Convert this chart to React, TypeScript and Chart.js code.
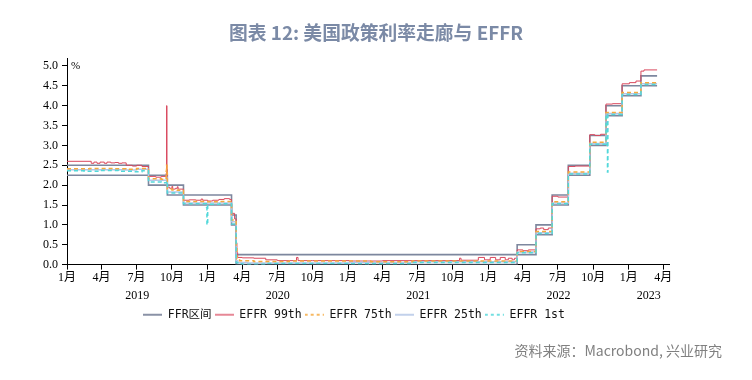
import React, { useEffect, useRef } from "react";
import { Chart, registerables } from "chart.js";

Chart.register(...registerables);

// ---------- data ----------
const X_START = "2019-01-01";
const X_END = "2023-04-16";

const monthTickDates = [
  "2019-01-01", "2019-04-01", "2019-07-01", "2019-10-01",
  "2020-01-01", "2020-04-01", "2020-07-01", "2020-10-01",
  "2021-01-01", "2021-04-01", "2021-07-01", "2021-10-01",
  "2022-01-01", "2022-04-01", "2022-07-01", "2022-10-01",
  "2023-01-01", "2023-04-01",
];
const monthTickLabels = [
  "1月", "4月", "7月", "10月",
  "1月", "4月", "7月", "10月",
  "1月", "4月", "7月", "10月",
  "1月", "4月", "7月", "10月",
  "1月", "4月",
];
const yearStarts = ["2019-01-01", "2020-01-01", "2021-01-01", "2022-01-01", "2023-01-01"];
const yearLabels = ["2019", "2020", "2021", "2022", "2023"];
const yTicks = [0, 0.5, 1.0, 1.5, 2.0, 2.5, 3.0, 3.5, 4.0, 4.5, 5.0];

const ffrDates = [
  "2019-01-01", "2019-08-01", "2019-09-19", "2019-10-31", "2020-03-04", "2020-03-16",
  "2022-03-17", "2022-05-05", "2022-06-16", "2022-07-28", "2022-09-22", "2022-11-03",
  "2022-12-15", "2023-02-02", "2023-03-16",
];
const ffrUpper = [2.5, 2.25, 2.0, 1.75, 1.25, 0.25, 0.5, 1.0, 1.75, 2.5, 3.25, 4.0, 4.5, 4.75, 4.75];
const ffrLower = [2.25, 2.0, 1.75, 1.5, 1.0, 0.0, 0.25, 0.75, 1.5, 2.25, 3.0, 3.75, 4.25, 4.5, 4.5];

const p99Dates = [
  "2019-01-01", "2019-03-05", "2019-03-12", "2019-03-20", "2019-03-28", "2019-04-08",
  "2019-04-15", "2019-04-25", "2019-05-06", "2019-05-15", "2019-05-24", "2019-06-04",
  "2019-06-20", "2019-07-01", "2019-07-15", "2019-08-01", "2019-08-20", "2019-09-03",
  "2019-09-16", "2019-09-17", "2019-09-18", "2019-09-19", "2019-09-25", "2019-10-01",
  "2019-10-03", "2019-10-10", "2019-10-15", "2019-10-17", "2019-10-31", "2019-11-15",
  "2019-12-02", "2019-12-16", "2019-12-20", "2020-01-02", "2020-01-15", "2020-01-31",
  "2020-02-14", "2020-02-28", "2020-03-04", "2020-03-12", "2020-03-16", "2020-03-18",
  "2020-03-20", "2020-04-01", "2020-05-01", "2020-06-01", "2020-07-01", "2020-08-20",
  "2020-08-24", "2020-10-01", "2021-01-04", "2021-04-01", "2021-06-17", "2021-10-18",
  "2021-10-22", "2021-12-06", "2021-12-22", "2022-01-06", "2022-01-20", "2022-02-01",
  "2022-02-14", "2022-02-22", "2022-03-04", "2022-03-10", "2022-03-17", "2022-04-01",
  "2022-04-15", "2022-05-05", "2022-05-16", "2022-05-25", "2022-06-06", "2022-06-16",
  "2022-07-01", "2022-07-28", "2022-08-15", "2022-09-22", "2022-10-05", "2022-10-20",
  "2022-11-03", "2022-11-20", "2022-12-15", "2023-01-03", "2023-01-20", "2023-02-02",
  "2023-02-10", "2023-03-16",
];
const p99Values = [
  2.60, 2.55, 2.58, 2.55, 2.58, 2.55,
  2.58, 2.56, 2.57, 2.55, 2.56, 2.50,
  2.48, 2.50, 2.47, 2.22, 2.20, 2.22,
  2.30, 4.00, 2.40, 1.95, 1.92, 1.97,
  1.90, 1.92, 1.96, 1.90, 1.62, 1.63,
  1.62, 1.65, 1.62, 1.60, 1.62, 1.64,
  1.66, 1.64, 1.29, 1.15, 0.55, 0.30,
  0.18, 0.17, 0.16, 0.12, 0.10, 0.18,
  0.10, 0.10, 0.09, 0.10, 0.10, 0.16,
  0.11, 0.18, 0.12, 0.18, 0.12, 0.18,
  0.12, 0.16, 0.12, 0.16, 0.37, 0.35,
  0.37, 0.90, 0.92, 0.88, 0.92, 1.72,
  1.70, 2.47, 2.48, 3.27, 3.25, 3.28,
  4.04, 4.05, 4.55, 4.58, 4.62, 4.87,
  4.90, 4.90,
];

const p75Dates = [
  "2019-01-01", "2019-03-01", "2019-05-01", "2019-06-03", "2019-07-01", "2019-08-01",
  "2019-09-03", "2019-09-16", "2019-09-17", "2019-09-18", "2019-09-19", "2019-10-01",
  "2019-10-15", "2019-10-31", "2020-01-02", "2020-02-01", "2020-03-04", "2020-03-16",
  "2020-03-18", "2020-03-25", "2020-05-01", "2020-08-01", "2021-01-04", "2021-03-01",
  "2021-06-17", "2022-03-17", "2022-05-05", "2022-06-16", "2022-07-28", "2022-09-22",
  "2022-11-03", "2022-12-15", "2023-02-02", "2023-03-16",
];
const p75Values = [
  2.41, 2.42, 2.41, 2.40, 2.42, 2.16,
  2.15, 2.35, 2.50, 2.30, 1.90, 1.88,
  1.87, 1.59, 1.58, 1.59, 1.12, 0.40,
  0.15, 0.10, 0.08, 0.09, 0.09, 0.07,
  0.09, 0.33, 0.83, 1.58, 2.33, 3.08,
  3.83, 4.33, 4.58, 4.58,
];

const p25Dates = [
  "2019-01-01", "2019-06-03", "2019-07-01", "2019-08-01", "2019-09-17", "2019-09-18",
  "2019-09-19", "2019-10-31", "2020-03-04", "2020-03-16", "2020-03-20", "2020-04-15",
  "2021-01-04", "2021-03-01", "2021-06-17", "2022-03-17", "2022-05-05", "2022-06-16",
  "2022-07-28", "2022-09-22", "2022-11-03", "2022-12-15", "2023-02-02", "2023-03-16",
];
const p25Values = [
  2.39, 2.38, 2.40, 2.12, 2.20, 2.15,
  1.83, 1.55, 1.08, 0.10, 0.05, 0.04,
  0.06, 0.05, 0.07, 0.32, 0.80, 1.55,
  2.30, 3.05, 3.80, 4.30, 4.55, 4.55,
];

const p1Dates = [
  "2019-01-01", "2019-02-15", "2019-04-01", "2019-05-15", "2019-06-20", "2019-07-15",
  "2019-08-01", "2019-09-03", "2019-09-17", "2019-09-19", "2019-10-31", "2019-12-30",
  "2019-12-31", "2020-01-02", "2020-02-03", "2020-03-04", "2020-03-16", "2020-03-20",
  "2020-04-01", "2020-06-01", "2021-01-04", "2021-06-17", "2022-03-17", "2022-05-05",
  "2022-06-16", "2022-07-28", "2022-09-22", "2022-11-03", "2022-11-07", "2022-11-08",
  "2022-12-15", "2023-02-02", "2023-03-16",
];
const p1Values = [
  2.36, 2.35, 2.37, 2.35, 2.34, 2.36,
  2.08, 2.06, 2.10, 1.80, 1.53, 1.45,
  1.00, 1.52, 1.53, 1.02, 0.05, 0.02,
  0.01, 0.03, 0.02, 0.05, 0.30, 0.78,
  1.53, 2.28, 3.03, 3.78, 2.33, 3.78,
  4.28, 4.53, 4.53,
];

// ---------- helpers ----------
const BASE = Date.UTC(2019, 0, 1);
const day = (s: string) => {
  const [y, m, d] = s.split("-").map(Number);
  return Math.round((Date.UTC(y, m - 1, d) - BASE) / 86400000);
};
const pts = (dates: string[], vals: number[]) => dates.map((d, i) => ({ x: day(d), y: vals[i] }));

const xMin = day(X_START);
const xMax = day(X_END);
const monthTickVals = monthTickDates.map(day);
const yearMidVals = yearStarts.map((s, i) => {
  const a = day(s);
  const b = i + 1 < yearStarts.length ? day(yearStarts[i + 1]) : xMax;
  return (a + b) / 2;
});

const AXIS_FONT = "'Liberation Serif', 'Noto Sans CJK SC', serif";
const LEGEND_FONT = "'DejaVu Sans Mono', 'Noto Sans CJK SC', monospace";

const percentPlugin = {
  id: "pctLabel",
  afterDraw(chart: any) {
    const { ctx, chartArea, scales } = chart;
    ctx.save();
    ctx.font = `11px ${AXIS_FONT}`;
    ctx.fillStyle = "#000";
    ctx.textBaseline = "middle";
    ctx.textAlign = "left";
    ctx.fillText("%", chartArea.left + 4, scales.y.getPixelForValue(5));
    ctx.restore();
  },
};

const makeSwatch = (color: string, width: number, dash: number[]) => {
  const c = document.createElement("canvas");
  c.width = 19;
  c.height = 4;
  const g = c.getContext("2d")!;
  g.strokeStyle = color;
  g.lineWidth = width;
  g.setLineDash(dash);
  g.beginPath();
  g.moveTo(0, 2);
  g.lineTo(19, 2);
  g.stroke();
  return c;
};

export default function App() {
  const ref = useRef<HTMLCanvasElement>(null);

  useEffect(() => {
    if (!ref.current) return;
    const common = { pointRadius: 0, pointHoverRadius: 0, stepped: "before" as const, fill: false };
    const datasets = [
      { ...common, label: "FFR区间", data: pts(ffrDates, ffrUpper), borderColor: "#7d879e", borderWidth: 1.6, borderDash: [] as number[], order: 5 },
      { ...common, label: "FFR区间下限", data: pts(ffrDates, ffrLower), borderColor: "#7d879e", borderWidth: 1.6, borderDash: [] as number[], order: 5 },
      { ...common, label: "EFFR 99th", data: pts(p99Dates, p99Values), borderColor: "#d9485d", borderWidth: 1, borderDash: [] as number[], order: 4 },
      { ...common, label: "EFFR 75th", data: pts(p75Dates, p75Values), borderColor: "#f5a93c", borderWidth: 1.5, borderDash: [4, 3], order: 2 },
      { ...common, label: "EFFR 25th", data: pts(p25Dates, p25Values), borderColor: "#b3c6e6", borderWidth: 1.5, borderDash: [] as number[], order: 3 },
      { ...common, label: "EFFR 1st", data: pts(p1Dates, p1Values), borderColor: "#52d8da", borderWidth: 1.5, borderDash: [4, 3], order: 1 },
    ];
    const swatches = datasets.map((d, i) =>
      makeSwatch(i === 0 ? "#6c7690" : d.borderColor, i === 2 ? 1.3 : 1.6, d.borderDash.length ? [3, 3] : [])
    );
    const chart = new Chart(ref.current, {
      type: "line",
      data: { datasets },
      options: {
        animation: false,
        responsive: false,
        devicePixelRatio: 1,
        events: [],
        layout: { padding: { left: 39, right: 83, top: 58, bottom: 49.5 } },
        plugins: {
          tooltip: { enabled: false },
          title: { display: false },
          legend: {
            display: true,
            position: "bottom",
            labels: {
              usePointStyle: true,
              pointStyle: "line",
              pointStyleWidth: 19,
              padding: 3,
              color: "#111",
              font: { family: LEGEND_FONT, size: 11.5 },
              filter: (item: any) => item.datasetIndex !== 1,
              sort: (a: any, b: any) => a.datasetIndex - b.datasetIndex,
              generateLabels: (ch: any) => {
                const items = (Chart.defaults as any).plugins.legend.labels.generateLabels(ch);
                return items.map((it: any) => ({ ...it, pointStyle: swatches[it.datasetIndex] }));
              },
            },
          },
        },
        scales: {
          x: {
            type: "linear",
            position: "bottom",
            min: xMin,
            max: xMax,
            weight: 0,
            afterBuildTicks: (s: any) => {
              s.ticks = monthTickVals.map((v) => ({ value: v }));
            },
            grid: { display: true, drawOnChartArea: false, drawTicks: true, tickLength: 5, color: "#000" },
            border: { display: true, color: "#000", width: 1 },
            ticks: {
              autoSkip: false,
              maxRotation: 0,
              padding: 1,
              color: "#000",
              font: { family: AXIS_FONT, size: 12 },
              callback: (_v: any, i: number) => monthTickLabels[i],
            },
          },
          x2: {
            type: "linear",
            position: "bottom",
            min: xMin,
            max: xMax,
            weight: 1,
            afterBuildTicks: (s: any) => {
              s.ticks = yearMidVals.map((v) => ({ value: v }));
            },
            grid: { display: false, drawTicks: false },
            border: { display: false },
            ticks: {
              autoSkip: false,
              maxRotation: 0,
              padding: 4,
              color: "#000",
              font: { family: AXIS_FONT, size: 12, lineHeight: 1.0 },
              callback: (_v: any, i: number) => yearLabels[i],
            },
          },
          y: {
            type: "linear",
            min: 0,
            max: 5.2,
            afterBuildTicks: (s: any) => {
              s.ticks = yTicks.map((v) => ({ value: v }));
            },
            grid: { display: true, drawOnChartArea: false, drawTicks: true, tickLength: 5, color: "#000" },
            border: { display: true, color: "#000", width: 1 },
            ticks: {
              padding: 4,
              color: "#000",
              font: { family: AXIS_FONT, size: 12 },
              callback: (v: any) => Number(v).toFixed(1),
            },
          },
        },
      },
      plugins: [percentPlugin],
    });
    return () => chart.destroy();
  }, []);

  return (
    <div style={{ position: "absolute", left: 0, top: 0, width: 752, height: 380, background: "#fff", overflow: "hidden" }}>
      <canvas ref={ref} width={752} height={380} style={{ position: "absolute", left: 0, top: 0, width: 752, height: 380 }} />
      <div
        style={{
          position: "absolute",
          left: 0,
          top: 19,
          width: 752,
          textAlign: "center",
          fontFamily: "'Noto Sans CJK SC', sans-serif",
          fontWeight: 700,
          fontSize: 18.8,
          lineHeight: "26px",
          color: "#7b8aa6",
        }}
      >
        图表 12: 美国政策利率走廊与 EFFR
      </div>
      <div
        style={{
          position: "absolute",
          right: 30,
          top: 340,
          fontFamily: "'Noto Sans CJK SC', sans-serif",
          fontSize: 14,
          lineHeight: "20px",
          color: "#808080",
        }}
      >
        资料来源：Macrobond, 兴业研究
      </div>
    </div>
  );
}
